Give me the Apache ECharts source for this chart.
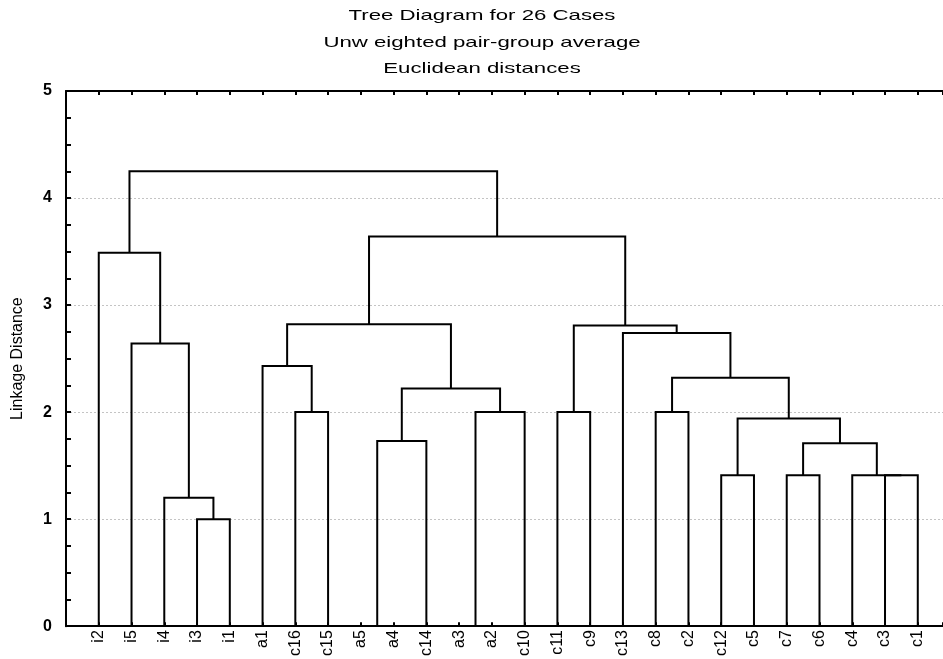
<!DOCTYPE html>
<html>
<head>
<meta charset="utf-8">
<script src="https://cdn.jsdelivr.net/npm/echarts@6/dist/echarts.min.js"></script>
<style>html,body{margin:0;padding:0;background:#fff}#chart{width:943px;height:659px}</style>
</head>
<body>
<div id="chart"></div>
<script>
// Leaf order along the x axis
const leafLabels = ['i2','i5','i4','i3','i1','a1','c16','c15','a5','a4','c14','a3','a2','c10','c11','c9','c13','c8','c2','c12','c5','c7','c6','c4','c3','c1'];
// Linkage table (scipy style: ids < 26 are leaves, id 26+k is merge k)
const mergeLeft   = [3, 2, 1, 0, 6, 5, 8, 32, 11, 34, 33, 31, 14, 19, 21, 24, 23, 40, 39, 17, 45, 16, 38, 37, 29];
const mergeRight  = [4, 26, 27, 28, 7, 30, 9, 10, 12, 13, 35, 36, 15, 20, 22, 25, 41, 42, 43, 18, 44, 46, 47, 48, 49];
const mergeHeight = [1.00, 1.20, 2.64, 3.49, 2.00, 2.43, 0.00, 1.73, 0.00, 2.00, 2.22, 2.82, 2.00, 1.41, 1.41, 1.41, 1.41, 1.71, 1.94, 2.00, 2.32, 2.74, 2.81, 3.64, 4.25];
const yTicks = [0, 1, 2, 3, 4, 5];
const titleLines = ['Tree Diagram for 26 Cases', 'Unw eighted pair-group average', 'Euclidean distances'];

const n = leafLabels.length;
const nodeX = [], nodeH = [];
for (let i = 0; i < n; i++) { nodeX[i] = i + 1; nodeH[i] = 0; }
const segs = [];
for (let k = 0; k < mergeLeft.length; k++) {
  const l = mergeLeft[k], r = mergeRight[k], h = mergeHeight[k];
  nodeX[n + k] = (nodeX[l] + nodeX[r]) / 2;
  nodeH[n + k] = h;
  segs.push([nodeX[l], nodeH[l], nodeX[r], nodeH[r], h]);
}

const chart = echarts.init(document.getElementById('chart'));
const xCommon = {
  type: 'value', min: 0, max: 26.77, interval: 1,
  splitLine: { show: false },
  axisLine: { show: true, lineStyle: { color: '#000', width: 2 } },
  axisTick: { show: true, inside: true, length: 4, lineStyle: { color: '#000', width: 2 } }
};
chart.setOption({
  animation: false,
  graphic: titleLines.map((t, i) => ({
    type: 'text', x: 482, y: 16 + i * 26.5, scaleX: 1.48, silent: true,
    style: { text: t, align: 'center', verticalAlign: 'middle', fill: '#000',
             font: '15px "Liberation Sans", Arial, sans-serif' }
  })),
  grid: { left: 66, top: 91, right: 0, bottom: 31, containLabel: false },
  xAxis: [
    Object.assign({}, xCommon, {
      position: 'bottom',
      axisLabel: {
        rotate: 90, margin: 4, color: '#000', fontSize: 16, fontFamily: 'Liberation Sans',
        formatter: v => Number.isInteger(v) && leafLabels[v - 1] ? leafLabels[v - 1] : ''
      }
    }),
    Object.assign({}, xCommon, { position: 'top', axisLabel: { show: false } })
  ],
  yAxis: {
    type: 'value', min: yTicks[0], max: yTicks[yTicks.length - 1], interval: 1,
    name: 'Linkage Distance', nameLocation: 'middle', nameGap: 40,
    nameTextStyle: { fontFamily: 'Liberation Sans', fontSize: 16, color: '#000' },
    axisLine: { show: true, lineStyle: { color: '#000', width: 2 } },
    axisTick: { show: true, inside: true, length: 5, lineStyle: { color: '#000', width: 2 } },
    minorTick: { show: true, splitNumber: 4, length: 5, lineStyle: { color: '#000', width: 2 } },
    axisLabel: { color: '#000', fontSize: 16, fontWeight: 'bold', fontFamily: 'Liberation Sans', margin: 14 },
    splitLine: { show: true, lineStyle: { color: '#c4c4c4', type: [2, 2], width: 1 } }
  },
  series: [{
    type: 'custom',
    xAxisIndex: 0,
    data: segs,
    encode: { x: [0, 2], y: [1, 3, 4] },
    renderItem: function (params, api) {
      if (api.value(4) === 0) { return { type: 'group', children: [] }; }
      const a = api.coord([api.value(0), api.value(1)]);
      const b = api.coord([api.value(0), api.value(4)]);
      const c = api.coord([api.value(2), api.value(4)]);
      const d = api.coord([api.value(2), api.value(3)]);
      return {
        type: 'polyline',
        shape: { points: [a, b, c, d] },
        style: { stroke: '#000', lineWidth: 2, fill: null }
      };
    }
  }]
});
</script>
</body>
</html>
